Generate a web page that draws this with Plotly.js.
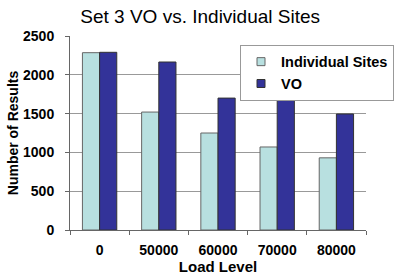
<!DOCTYPE html>
<html><head><meta charset="utf-8">
<script src="https://cdn.plot.ly/plotly-3.0.1.min.js"></script>
<style>html,body{margin:0;padding:0;background:#fff;overflow:hidden}#chart{width:394px;height:278px}</style>
</head><body><div id="chart"></div>
<script>
var categories = ["0", "50000", "60000", "70000", "80000"];
var individualSites = [2285, 1520, 1250, 1070, 930];
var vo = [2290, 2165, 1700, 1690, 1495];
var yTicks = [0, 500, 1000, 1500, 2000, 2500];
var seriesNames = ["Individual Sites", "VO"];
var seriesColors = ["#B8E0E0", "#333399"];
var seriesLines = ["#666666", "#333333"];

var font = "Arial, 'Liberation Sans', sans-serif";
var data = [
  {type: "bar", name: seriesNames[0], x: categories, y: individualSites, showlegend: false,
   marker: {color: seriesColors[0], line: {color: seriesLines[0], width: 1}}},
  {type: "bar", name: seriesNames[1], x: categories, y: vo, showlegend: false,
   marker: {color: seriesColors[1], line: {color: seriesLines[1], width: 1}}},
  {type: "scatter", mode: "markers", name: seriesNames[0], x: [null], y: [null], showlegend: true,
   marker: {symbol: "square", size: 8, color: seriesColors[0], line: {color: seriesLines[0], width: 1}}},
  {type: "scatter", mode: "markers", name: seriesNames[1], x: [null], y: [null], showlegend: true,
   marker: {symbol: "square", size: 8, color: seriesColors[1], line: {color: seriesLines[1], width: 1}}}
];
var layout = {
  width: 394, height: 278,
  margin: {l: 70, r: 0, t: 36, b: 48},
  paper_bgcolor: "#fff", plot_bgcolor: "#fff",
  barmode: "group", bargap: 0.42, bargroupgap: 0,
  title: {text: "Set 3 VO vs. Individual Sites", x: 0.508, xanchor: "center", xref: "container", y: 0.94, yanchor: "middle",
          font: {family: font, size: 19, color: "#000"}},
  xaxis: {type: "category", tickvals: categories, ticktext: categories,
          showline: true, linecolor: "#666", linewidth: 1,
          ticks: "outside", ticklen: 4, tickcolor: "#666", tickson: "boundaries",
          ticklabelstandoff: 7,
          tickfont: {family: font, size: 14, color: "#000", weight: "bold"},
          title: {text: "Load Level", standoff: 0, font: {family: font, size: 15, color: "#000", weight: "bold"}}},
  yaxis: {range: [0, 2500], tickvals: yTicks, ticktext: yTicks.map(String),
          showline: true, linecolor: "#666", linewidth: 1,
          showgrid: true, gridcolor: "#999", gridwidth: 1, zeroline: false,
          ticks: "outside", ticklen: 4, tickcolor: "#666", ticklabelstandoff: 8,
          tickfont: {family: font, size: 14, color: "#000", weight: "bold"},
          title: {text: "Number of Results", standoff: 1, font: {family: font, size: 14, color: "#000", weight: "bold"}}},
  legend: {x: 0.575, y: 0.955, xanchor: "left", yanchor: "top",
           bgcolor: "#fff", bordercolor: "#999", borderwidth: 1,
           font: {family: font, size: 14.5, color: "#000", weight: "bold"},
           tracegroupgap: 0, itemwidth: 30}
};
Plotly.newPlot("chart", data, layout, {displayModeBar: false, staticPlot: true});
</script></body></html>
